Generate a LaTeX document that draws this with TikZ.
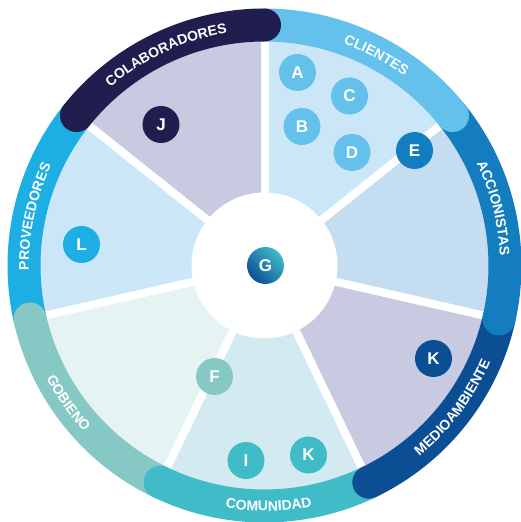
\documentclass[tikz,border=0pt]{standalone}
\usepackage{fontspec}
\setmainfont{Liberation Sans}
\usepackage{xcolor}
\usetikzlibrary{decorations.text}

% ring colours
\definecolor{navy}{HTML}{1F1E4E}
\definecolor{sky}{HTML}{63C1EC}
\definecolor{ocean}{HTML}{137DC0}
\definecolor{deep}{HTML}{0C4E94}
\definecolor{teal}{HTML}{3FBCC8}
\definecolor{sage}{HTML}{86C9C4}
\definecolor{bright}{HTML}{1DAEE3}
% sector colours
\definecolor{lav}{HTML}{C8CAE1}
\definecolor{pale}{HTML}{CBE7F7}
\definecolor{powder}{HTML}{C5DDF0}
\definecolor{mint}{HTML}{E5F3F3}
\definecolor{aqua}{HTML}{D2EAF0}

\newcommand{\ringfont}{\fontsize{14}{14}\selectfont\bfseries}
\newcommand{\badgefont}{\fontsize{17}{17}\selectfont\bfseries}

\begin{document}
\begin{tikzpicture}[
    band/.style={line width=33pt, line cap=round},
    badge/.style={circle, minimum size=37pt, inner sep=0pt, text=white, font=\badgefont},
    outlabel/.style={decorate, decoration={text along path, text color=white, text align=center, text={|\ringfont|#1}}},
  ]
  \useasboundingbox (-264.5pt,-256.5pt) rectangle (256.5pt,265.5pt);

  % sectors
  \foreach \c [count=\i from 0] in {lav,pale,mint,aqua,lav,powder,pale}
    \fill[\c] (0,0) -- ({90+\i*360/7}:230pt) arc[start angle={90+\i*360/7}, delta angle={360/7}, radius=230pt] -- cycle;
  \foreach \i in {0,...,6}
    \draw[white, line width=8pt] (0,0) -- ({90+\i*360/7}:226pt);
  \fill[white] (0,0) circle[radius=73pt];

  % ring
  \draw[band, bright] (141.43:240.5pt) arc[start angle=141.43, end angle=192.86, radius=240.5pt];
  \draw[band, sage] (192.86:240.5pt) arc[start angle=192.86, end angle=244.29, radius=240.5pt];
  \draw[band, teal] (244.29:240.5pt) arc[start angle=244.29, end angle=295.71, radius=240.5pt];
  \draw[band, deep] (295.71:240.5pt) arc[start angle=295.71, end angle=347.14, radius=240.5pt];
  \draw[band, ocean] (347.14:240.5pt) arc[start angle=347.14, end angle=398.57, radius=240.5pt];
  \draw[band, sky] (38.57:240.5pt) arc[start angle=38.57, end angle=90, radius=240.5pt];
  \draw[band, navy] (90:240.5pt) arc[start angle=90, end angle=141.43, radius=240.5pt];

  % ring labels
  \path[outlabel=COLABORADORES] (140:235.5pt) arc[start angle=140, end angle=90, radius=235.5pt];
  \path[outlabel=CLIENTES] (87:235.5pt) arc[start angle=87, end angle=37, radius=235.5pt];
  \path[outlabel=ACCIONISTAS] (39:235.5pt) arc[start angle=39, end angle=-11, radius=235.5pt];
  \path[outlabel=PROVEEDORES] (193:235.5pt) arc[start angle=193, end angle=143, radius=235.5pt];
  \path[outlabel=GOBIENO] (190:245.5pt) arc[start angle=190, end angle=240, radius=245.5pt];
  \path[outlabel=COMUNIDAD] (246:245.5pt) arc[start angle=246, end angle=296, radius=245.5pt];
  \path[outlabel=MEDIOAMBIENTE] (298:245.5pt) arc[start angle=298, end angle=348, radius=245.5pt];

  % badges
  \node[badge, fill=sky] (a) at (33pt,193pt) {A};
  \node[badge, fill=sky] (b) at (37.5pt,139pt) {B};
  \node[badge, fill=sky] (c) at (85pt,169.5pt) {C};
  \node[badge, fill=sky] (d) at (87.5pt,113pt) {D};
  \node[badge, fill=ocean] (e) at (150pt,115pt) {E};
  \node[badge, fill=sage] (f) at (-50pt,-111pt) {F};
  \node[badge, shading=axis, left color=teal, right color=deep, shading angle=-45] (g) at (1pt,0pt) {G};
  \node[badge, fill=teal] (i) at (-18.5pt,-195pt) {I};
  \node[badge, fill=navy] (j) at (-103.5pt,141pt) {J};
  \node[badge, fill=deep] (k1) at (169pt,-93pt) {K};
  \node[badge, fill=teal] (k2) at (44pt,-189.5pt) {K};
  \node[badge, fill=bright] (l) at (-183pt,21pt) {L};
\end{tikzpicture}
\end{document}
